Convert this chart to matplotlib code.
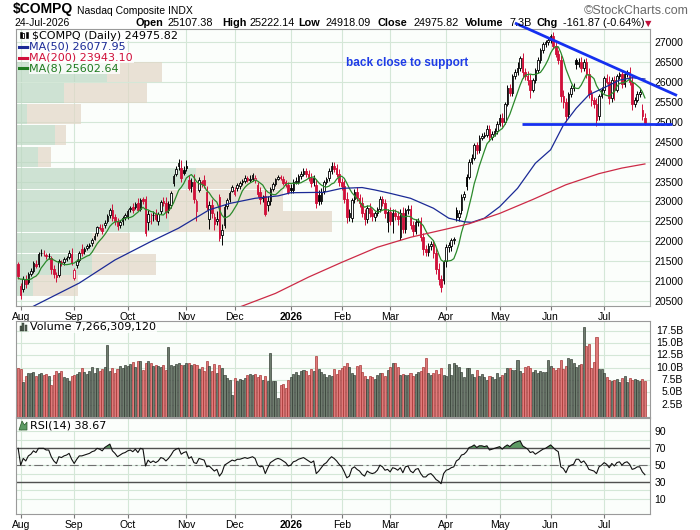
import numpy as np
import matplotlib
matplotlib.use("Agg")
import matplotlib.pyplot as plt
from matplotlib.patches import Rectangle, Polygon
from matplotlib.collections import PatchCollection, LineCollection
import matplotlib.transforms as mtransforms

# ------------------------------------------------------------------ data
month_labels = ['Aug', 'Sep', 'Oct', 'Nov', 'Dec', '2026', 'Feb', 'Mar', 'Apr', 'May', 'Jun', 'Jul']
month_start_idx = [0, 21, 42, 65, 84, 106, 126, 145, 167, 188, 208, 229]

# closes of the 7 sessions before the first bar (only used to seed the MA(8))
warmup_closes = [20893, 21020, 21057, 21108, 21178, 21098, 21130]

# first bar = 31-Jul (index -1), last bar = 24-Jul (index 245)
closes = [
    21122,
    20650, 21053, 20916, 21169, 21242, 21450, 21385, 21681, 21713, 21710, 21623, 21629, 21315, 21172, 21100, 21497, 21449, 21544, 21590, 21705, 21455,
    21279, 21497, 21707, 21700, 21798, 21879, 21886, 22043, 22141, 22348, 22333, 22261, 22470, 22631, 22788, 22573, 22497, 22384, 22484, 22591, 22660,
    22755, 22844, 22780, 22941, 22788, 23043, 23024, 22204, 22695, 22521, 22670, 22562, 22680, 22991, 22953, 22740, 22942, 23205, 23637, 23827, 23958, 23581, 23725,
    23834, 23349, 23500, 23054, 23005, 23528, 23468, 23406, 22871, 22900, 22708, 22432, 22564, 22078, 22273, 22872, 23025, 23215, 23366,
    23276, 23414, 23454, 23505, 23578, 23546, 23576, 23654, 23593, 23195, 23057, 23111, 22693, 23006, 23307, 23428, 23562, 23614, 23593, 23474, 23420, 23242,
    23290, 23480, 23520, 23640, 23700, 23760, 23680, 23580, 23470, 23600, 22960, 23000, 23250, 23480, 23560, 23760, 23900, 23820, 23700, 23480,
    23380, 23050, 22600, 22700, 23030, 23230, 23080, 22950, 22700, 22550, 22830, 22720, 22640, 22700, 22800, 23050, 22960, 22700, 22740,
    22520, 22700, 22640, 22560, 22720, 22300, 22780, 22820, 22420, 22250, 22480, 22500, 22100, 21800, 21740, 21880, 21920, 21700, 21300, 21050, 20850, 21480,
    21850, 21900, 22020, 22050, 22620, 22700, 23120, 23180, 23400, 24000, 24100, 24420, 24300, 24600, 24650, 24680, 24830, 24620, 24700, 24780, 24950,
    25100, 25000, 25450, 25850, 25720, 26150, 26250, 26350, 26600, 26250, 26150, 26050, 25800, 26050, 26300, 26550, 26800, 26950, 27000, 27050,
    27150, 26900, 26700, 26550, 25650, 25500, 25150, 25700, 25850, 25900, 26450, 26500, 26350, 26500, 26200, 25700, 25550, 25450, 25050, 25650, 25800,
    26100, 26000, 25600, 26050, 25800, 26150, 26200, 25950, 26200, 26250, 26000, 25450, 25550, 25700, 25757, 25137.69, 24975.82,
]
opens = [
    21430,
    20880, 20790, 21040, 20980, 21180, 21250, 21420, 21420, 21700, 21700, 21650, 21620, 21580, 21300, 21150, 21150, 21480, 21470, 21550, 21610, 21690,
    21080, 21400, 21530, 21800, 21750, 21830, 21890, 21950, 22060, 22200, 22360, 22340, 22400, 22520, 22650, 22790, 22600, 22500, 22400, 22500, 22600,
    22620, 22800, 22870, 22860, 22950, 22820, 23050, 23070, 22480, 22500, 22650, 22680, 22500, 22750, 23000, 22960, 22780, 22900, 23460, 23700, 23880, 23850, 23800,
    23900, 23550, 23380, 23480, 22760, 23300, 23480, 23550, 23250, 22550, 22900, 22600, 22500, 23100, 22150, 22400, 22880, 23050, 23270,
    23200, 23330, 23380, 23480, 23520, 23590, 23540, 23570, 23550, 23420, 23250, 23080, 23150, 22900, 23000, 23320, 23440, 23570, 23620, 23570, 23480, 23420,
    23330, 23300, 23490, 23500, 23640, 23700, 23770, 23690, 23590, 23480, 23420, 23160, 23020, 23260, 23500, 23580, 23760, 23900, 23830, 23700,
    23500, 23380, 23050, 22620, 22580, 23050, 23240, 23080, 22950, 22700, 22560, 22830, 22720, 22620, 22700, 22820, 23050, 22950, 22480,
    22740, 22520, 22700, 22640, 22100, 22700, 22300, 22780, 22800, 22420, 22250, 22480, 22500, 22100, 21800, 21740, 21880, 21920, 21700, 21300, 21050, 21030,
    21500, 21850, 21880, 22020, 22780, 22620, 22780, 23120, 23620, 23620, 24000, 24100, 24420, 24300, 24600, 24650, 24680, 24830, 24620, 24700, 24780,
    24950, 25100, 25000, 25450, 25850, 25720, 26150, 26250, 26350, 26600, 26250, 26150, 26050, 25800, 26050, 26300, 26550, 26800, 26950, 27000,
    27050, 27150, 26900, 26700, 26550, 25650, 25500, 25200, 25700, 25850, 26550, 26450, 26500, 26350, 26500, 26200, 25700, 25550, 25450, 25150, 25650,
    25800, 26100, 26000, 25600, 26050, 25800, 26150, 26200, 25950, 26200, 26250, 26000, 25450, 25550, 25700, 25300, 25107.38,
]
# wick lengths above max(open, close) and below min(open, close), in index points
wick_up = [
    40,
    60, 80, 120, 60, 90, 50, 110, 60, 90, 70, 60, 70, 60, 110, 90, 50, 60, 60, 40, 70, 130,
    60, 50, 40, 140, 50, 60, 60, 40, 60, 40, 70, 90, 60, 50, 40, 150, 90, 80, 60, 50, 40,
    60, 40, 90, 50, 140, 40, 60, 80, 100, 200, 90, 140, 60, 40, 100, 150, 60, 60, 50, 60, 100, 200, 80,
    140, 120, 100, 200, 60, 80, 60, 120, 150, 120, 150, 120, 200, 100, 150, 60, 60, 60, 50,
    80, 60, 60, 60, 80, 60, 80, 60, 60, 80, 120, 60, 150, 120, 60, 60, 40, 40, 40, 60, 60, 80,
    100, 80, 90, 60, 60, 80, 70, 90, 120, 60, 150, 120, 80, 60, 60, 80, 100, 80, 100, 120,
    100, 150, 200, 120, 60, 80, 120, 100, 150, 120, 80, 120, 100, 60, 60, 80, 100, 120, 80,
    120, 100, 100, 120, 80, 150, 60, 80, 120, 100, 80, 80, 120, 100, 100, 80, 80, 100, 120, 150, 100, 60,
    80, 80, 60, 60, 80, 80, 60, 80, 60, 60, 100, 60, 80, 60, 60, 60, 80, 100, 60, 60, 80,
    100, 120, 60, 80, 100, 60, 80, 150, 60, 120, 100, 120, 150, 60, 60, 80, 60, 60, 60, 80,
    60, 100, 100, 100, 120, 150, 100, 60, 80, 80, 60, 100, 120, 80, 100, 150, 100, 80, 150, 60, 80,
    60, 100, 150, 80, 100, 60, 60, 100, 60, 60, 120, 150, 80, 80, 60, 160, 114.76,
]
wick_dn = [
    60,
    100, 60, 80, 60, 60, 60, 60, 60, 60, 80, 60, 60, 150, 100, 120, 60, 60, 60, 50, 60, 40,
    60, 60, 60, 60, 60, 50, 60, 60, 40, 60, 60, 80, 60, 60, 60, 60, 80, 100, 60, 80, 60,
    60, 60, 80, 60, 40, 60, 80, 60, 200, 60, 150, 60, 100, 60, 60, 150, 60, 60, 60, 60, 80, 100, 60,
    60, 60, 150, 100, 250, 60, 100, 60, 80, 250, 120, 150, 100, 60, 250, 60, 80, 60, 40,
    60, 60, 60, 60, 60, 60, 60, 60, 80, 80, 120, 100, 60, 150, 80, 60, 40, 40, 60, 60, 60, 60,
    80, 80, 60, 60, 80, 60, 60, 60, 100, 80, 120, 100, 80, 60, 60, 60, 60, 80, 80, 80,
    100, 100, 150, 100, 100, 80, 80, 100, 100, 150, 100, 100, 120, 100, 60, 80, 80, 120, 250,
    120, 300, 100, 150, 80, 100, 100, 100, 100, 120, 80, 100, 100, 150, 120, 100, 100, 120, 120, 150, 130, 100,
    150, 120, 120, 100, 100, 100, 100, 80, 100, 60, 60, 60, 100, 80, 60, 60, 60, 100, 80, 60, 80,
    60, 120, 60, 60, 60, 80, 60, 60, 60, 150, 100, 120, 200, 60, 60, 60, 60, 60, 60, 60,
    60, 80, 80, 100, 150, 150, 150, 100, 80, 80, 120, 60, 100, 80, 100, 100, 150, 100, 150, 100, 60,
    80, 60, 150, 100, 250, 60, 60, 100, 80, 60, 80, 150, 80, 60, 80, 80, 57.73,
]
# daily volume, billions of shares
volumes_b = [
    9.9,
    9.7, 7.2, 8.4, 8.9, 8.9, 9.2, 8.3, 8.8, 9.0, 8.6, 8.7, 8.3, 6.4, 8.6, 9.4, 8.9, 9.3, 8.1, 7.9, 7.4, 8.3,
    8.6, 8.7, 9.2, 10.0, 9.1, 8.8, 9.4, 10.2, 9.0, 10.0, 9.4, 9.7, 10.2, 14.6, 9.3, 10.0, 9.0, 9.7, 10.3, 9.9, 10.6,
    10.4, 10.8, 11.2, 10.2, 11.4, 11.4, 9.6, 10.9, 11.3, 10.9, 10.4, 10.6, 10.3, 10.2, 10.6, 9.6, 14.3, 10.5, 10.4, 10.7, 10.9, 10.5, 10.6,
    10.9, 11.0, 10.6, 10.8, 10.5, 9.7, 10.2, 9.4, 11.4, 10.4, 9.3, 10.7, 8.9, 10.5, 9.9, 8.6, 7.9, 7.5, 4.5,
    7.9, 7.4, 7.8, 7.5, 7.9, 8.5, 8.8, 8.5, 8.8, 8.2, 8.5, 7.6, 8.3, 7.4, 12.9, 7.3, 7.4, 3.8, 6.5, 6.8, 5.8, 7.6,
    8.2, 8.8, 9.1, 8.6, 9.4, 9.6, 9.3, 8.5, 9.7, 9.4, 12.3, 9.7, 9.2, 8.7, 8.2, 8.5, 8.3, 9.8, 8.8, 9.5,
    9.9, 10.4, 10.9, 10.1, 8.9, 8.6, 10.3, 10.6, 9.1, 8.4, 7.7, 8.4, 8.1, 7.7, 8.5, 8.9, 9.0, 8.3, 9.5,
    10.1, 11.0, 11.0, 10.2, 8.5, 8.8, 8.5, 8.6, 8.9, 8.4, 8.7, 9.1, 9.4, 10.2, 12.0, 8.9, 8.5, 9.0, 9.6, 8.7, 9.9, 8.5,
    8.3, 10.7, 8.6, 10.9, 10.6, 10.1, 9.1, 8.2, 10.0, 10.0, 8.7, 8.2, 9.6, 8.4, 8.7, 8.2, 7.6, 8.3, 8.1, 7.7, 8.9,
    8.1, 8.5, 9.0, 9.9, 9.9, 9.6, 9.6, 11.5, 9.3, 9.0, 10.1, 10.4, 9.9, 9.1, 9.6, 9.0, 9.3, 9.1, 9.2, 11.5,
    10.3, 9.9, 9.5, 9.9, 11.5, 9.8, 10.4, 12.0, 11.8, 11.0, 10.2, 10.5, 10.8, 18.2, 14.5, 14.8, 10.0, 11.2, 16.3, 9.8, 9.8,
    9.0, 8.2, 7.5, 7.3, 7.5, 7.7, 7.2, 7.9, 8.3, 7.2, 7.9, 7.5, 7.7, 7.6, 7.4, 7.7, 7.266,
]
rsi14 = [
    70,
    50, 58, 55, 61, 63, 67, 65, 70, 70, 70, 68, 68, 60, 55, 52, 60, 59, 61, 62, 64, 57,
    52, 57, 61, 61, 62, 63, 64, 66, 67, 70, 69, 67, 71, 73, 75, 67, 64, 60, 62, 64, 65,
    67, 68, 66, 69, 65, 70, 69, 49, 56, 53, 55, 53, 55, 59, 58, 55, 58, 62, 67, 69, 70, 63, 65,
    66, 58, 60, 53, 52, 58, 57, 56, 48, 49, 46, 43, 45, 37, 41, 50, 52, 54, 56,
    55, 57, 57, 58, 59, 58, 59, 60, 58, 50, 48, 49, 40, 47, 53, 55, 57, 58, 57, 55, 53, 49,
    50, 54, 55, 57, 58, 59, 57, 55, 53, 55, 40, 43, 47, 51, 53, 57, 60, 58, 55, 51,
    48, 42, 35, 37, 46, 48, 45, 43, 39, 37, 43, 41, 40, 41, 44, 50, 48, 44, 45,
    42, 47, 46, 44, 47, 41, 48, 49, 43, 41, 45, 46, 40, 36, 36, 39, 40, 37, 33, 31, 28, 40,
    44, 45, 47, 48, 55, 57, 62, 63, 66, 71, 72, 74, 71, 73, 73, 72, 73, 68, 69, 70, 71,
    72, 69, 72, 74, 72, 75, 77, 78, 79, 73, 71, 69, 65, 66, 63, 65, 67, 69, 70, 72,
    74, 71, 68, 66, 48, 46, 41, 48, 50, 51, 57, 57, 53, 55, 51, 45, 44, 43, 40, 48, 50,
    53, 51, 47, 52, 49, 53, 54, 50, 53, 54, 51, 45, 46, 48, 48, 42, 38.67,
]
# moving averages (bar index, value)
ma50_idx = [-2, 6, 23, 37, 51, 62, 74, 82, 92, 101, 106, 119, 126, 134, 139, 145, 153, 162, 168, 174, 177,
            182, 188, 195, 202, 208, 213, 218, 223, 229, 235, 240, 245]
ma50_val = [20130, 20400, 20950, 21530, 21990, 22330, 22790, 22950, 23080, 23140, 23220, 23230, 23330, 23350,
            23290, 23205, 23080, 22830, 22580, 22490, 22475, 22580, 22870, 23330, 23960, 24300, 24920, 25340,
            25680, 25860, 26050, 26110, 26077.95]
ma200_idx = [84, 100, 113, 126, 140, 153, 168, 176, 188, 201, 214, 227, 236, 245]
ma200_val = [20300, 20690, 21100, 21470, 21850, 22100, 22320, 22440, 22700, 23050, 23420, 23700, 23840, 23943.10]

# volume-by-price zones (price band, up volume, down volume; relative units)
vbp_low = [26010, 25482, 24947, 24419, 23859, 23306, 22773, 22240, 21698, 21152, 20625]
vbp_high = [26497, 25977, 25449, 24922, 24376, 23834, 23288, 22761, 22215, 21680, 21140]
vbp_up = [91, 48, 10.7, 39, 21.7, 179.7, 153, 153, 75.7, 75.7, 17.3]
vbp_down = [55, 82.7, 54.3, 10.7, 13.3, 95, 114.3, 162.7, 38.3, 64, 44.4]

# hand-drawn annotations (bar index, price)
trend_idx = [194, 257.6]
trend_val = [27485, 25663]
support_idx = [196.6, 255.5]
support_val = [24954, 24954]

# ------------------------------------------------------------------ prep
closes = np.asarray(closes, float)
opens = np.asarray(opens, float)
n = len(closes)
idx = np.arange(n) - 1
highs = np.maximum(opens, closes) + np.asarray(wick_up, float)
lows = np.minimum(opens, closes) - np.asarray(wick_dn, float)
prev_close = np.concatenate([[warmup_closes[-1]], closes[:-1]])
is_down = closes < prev_close
hollow = closes > opens
all_c = np.concatenate([np.asarray(warmup_closes, float), closes])
ma8 = np.convolve(all_c, np.ones(8) / 8.0, mode='valid')
rsi14 = np.asarray(rsi14, float)
volumes_b = np.asarray(volumes_b, float)

# ------------------------------------------------------------------ figure
plt.rcParams['font.family'] = ['DejaVu Sans']
W, H = 700.0, 530.0
fig = plt.figure(figsize=(7, 5.3), dpi=100)
fig.patch.set_facecolor('white')


def fx(p):
    return p / W


def fy(p):
    return 1.0 - p / H


def axrect(l, t, r, b):
    return [fx(l), fy(b), (r - l) / W, (b - t) / H]


ax_p = fig.add_axes(axrect(16, 29.5, 650, 306))
ax_v = fig.add_axes(axrect(16, 321, 650, 417))
ax_r = fig.add_axes(axrect(16, 418, 650, 514))

XMIN, XMAX = -1.84, 247.0
BG = '#fbfefb'
GRID = '#d4e7d7'
SPINE = '#9a9a9a'
UP_C = '#000000'
DN_C = '#d0103a'
TICKF = 'Liberation Sans'

for ax in (ax_p, ax_v, ax_r):
    ax.set_facecolor(BG)
    ax.set_xlim(XMIN, XMAX)
    for s in ax.spines.values():
        s.set_color(SPINE)
        s.set_linewidth(0.8)
    ax.set_xticks(month_start_idx)
    ax.xaxis.grid(True, color=GRID, lw=0.8)
    ax.yaxis.grid(True, color=GRID, lw=0.8)
    ax.set_axisbelow(True)
    ax.yaxis.tick_right()
    ax.tick_params(axis='y', length=0, pad=3, labelsize=7.5)
    ax.tick_params(axis='x', length=3, color='#777777', labelsize=7.5, pad=1.5)

# ---------------- price panel
ax_p.set_ylim(20373, 27322)
pt = np.arange(20500, 27001, 500)
ax_p.set_yticks(pt)
ax_p.set_yticklabels([str(v) for v in pt], family=TICKF, fontsize=7.5)

vbp_tr = mtransforms.blended_transform_factory(ax_p.transAxes, ax_p.transData)
VBP_FULL = 634.0
for lo, hi, up, dn in zip(vbp_low, vbp_high, vbp_up, vbp_down):
    ax_p.add_patch(Rectangle((0, lo), up / VBP_FULL, hi - lo, transform=vbp_tr,
                             facecolor='#bcd7c2', alpha=0.7, edgecolor='none', zorder=0.8))
    ax_p.add_patch(Rectangle((up / VBP_FULL, lo), dn / VBP_FULL, hi - lo, transform=vbp_tr,
                             facecolor='#e2d6c6', alpha=0.7, edgecolor='none', zorder=0.8))

cols = np.where(is_down, DN_C, UP_C)
segs = [[(i, l), (i, h)] for i, l, h in zip(idx, lows, highs)]
ax_p.add_collection(LineCollection(segs, colors=cols, linewidths=0.7, zorder=3))
body_w = 0.62
rects, fcs = [], []
for i, o, c, col, hol in zip(idx, opens, closes, cols, hollow):
    lo, hi = min(o, c), max(o, c)
    rects.append(Rectangle((i - body_w / 2, lo), body_w, max(hi - lo, 10)))
    fcs.append('white' if hol else col)
ax_p.add_collection(PatchCollection(rects, facecolors=fcs, edgecolors=cols, linewidths=0.6, zorder=4))

ax_p.plot(idx, ma8, color='#2b8a2b', lw=0.9, zorder=5)
ax_p.plot(ma50_idx, ma50_val, color='#1b2a96', lw=0.9, zorder=5)
ax_p.plot(ma200_idx, ma200_val, color='#cc2a46', lw=0.9, zorder=5)

LINE_BLUE = '#1530f0'
ax_p.plot(trend_idx, trend_val, color=LINE_BLUE, lw=2.0, clip_on=False, zorder=7, solid_capstyle='butt')
ax_p.plot(support_idx, support_val, color=LINE_BLUE, lw=2.0, clip_on=False, zorder=7, solid_capstyle='butt')
ax_p.text(127.8, 26480, 'back close to support', color='#1e3ce6', fontsize=8.5,
          fontweight='bold', family='Liberation Sans', va='center', ha='left', zorder=8)

ax_p.set_xticklabels(month_labels, family=TICKF, fontsize=7.5)
ax_v.set_xticklabels([])
ax_v.tick_params(axis='x', length=0)
ax_r.set_xticklabels(month_labels, family=TICKF, fontsize=7.5)
for ax in (ax_p, ax_r):
    for lab in ax.get_xticklabels():
        if lab.get_text() == '2026':
            lab.set_fontweight('bold')

# ---------------- volume panel
ax_v.set_ylim(0, 19.5)
vt = [2.5, 5, 7.5, 10, 12.5, 15, 17.5]
ax_v.set_yticks(vt)
ax_v.set_yticklabels([])
vcol = np.where(is_down, '#e07a7a', '#6f7d6f')
vedge = np.where(is_down, '#a02a2a', '#2c342c')
ax_v.bar(idx, volumes_b, width=0.8, color=vcol, edgecolor=vedge, linewidth=0.45, zorder=3)
vtr = mtransforms.blended_transform_factory(fig.transFigure, ax_v.transData)
for t in vt:
    fig.text(fx(683), t, '%.1fB' % t, transform=vtr, ha='right', va='center',
             family=TICKF, fontsize=7.5)

# ---------------- RSI panel
ax_r.set_ylim(-8, 106)
ax_r.set_yticks([10, 30, 50, 70, 90])
ax_r.set_yticklabels(['10', '30', '50', '70', '90'], family=TICKF, fontsize=7.5)
ax_r.set_yticks([20, 40, 60, 80], minor=True)
ax_r.yaxis.grid(True, which='minor', color=GRID, lw=0.8)
ax_r.tick_params(axis='y', which='minor', length=0)
ax_r.fill_between(idx, rsi14, 70, where=rsi14 >= 70, interpolate=True, color='#5d9b64', lw=0, zorder=2)
ax_r.axhline(70, color='#505050', lw=1.0, zorder=2.5)
ax_r.axhline(30, color='#505050', lw=1.0, zorder=2.5)
ax_r.axhline(50, color='#707070', lw=0.8, ls=(0, (8, 3, 2, 3)), zorder=2.5)
ax_r.plot(idx, rsi14, color='#111111', lw=0.8, zorder=3)

# ---------------- legends / labels inside panels
def add_rect(x0, y0, w, h, **kw):
    fig.add_artist(Rectangle((fx(x0), fy(y0 + h)), w / W, h / H, transform=fig.transFigure, **kw))


bb = dict(facecolor='white', edgecolor='none', alpha=0.8, pad=0.6)
fig.text(fx(31.5), fy(35.7), '$COMPQ (Daily) 24975.82', fontsize=8, va='center', ha='left', color='black', bbox=bb)
add_rect(19.5, 32, 2, 6, facecolor='black', edgecolor='black', lw=0.4)
add_rect(22.5, 33, 2, 5, facecolor='white', edgecolor='black', lw=0.6)
add_rect(25.5, 31.5, 2, 6, facecolor='black', edgecolor='black', lw=0.4)
leg_items = [('MA(50) 26077.95', '#1b2a96', 46.7), ('MA(200) 23943.10', '#d0103a', 57.5), ('MA(8) 25602.64', '#1f7a1f', 68.2)]
for txt, c, yy in leg_items:
    fig.text(fx(29.3), fy(yy), txt, fontsize=8, va='center', ha='left', color=c, bbox=bb)
    fig.add_artist(plt.Line2D([fx(19), fx(27.5)], [fy(yy), fy(yy)], transform=fig.transFigure, color=c, lw=2.2))

fig.text(fx(30), fy(327.3), 'Volume 7,266,309,120', fontsize=8, va='center', ha='left', color='black', bbox=bb)
for k, hh in enumerate([5, 8, 6]):
    add_rect(19.5 + 2.6 * k, 331 - hh, 2, hh, facecolor='#556055', edgecolor='#223022', lw=0.3)
fig.text(fx(29.5), fy(425), 'RSI(14) 38.67', fontsize=8, va='center', ha='left', color='black', bbox=bb)
fig.add_artist(Polygon([(fx(19), fy(430)), (fx(22), fy(421)), (fx(24.5), fy(425)), (fx(27), fy(422)), (fx(27), fy(430))],
                       closed=True, transform=fig.transFigure, facecolor='#5d9b64', edgecolor='#2a5a2a', lw=0.5))

# ---------------- header
HF = 'Liberation Sans'
fig.text(fx(13), fy(13.5), '$COMPQ', fontsize=10, fontweight='bold', family=HF, va='baseline')
fig.text(fx(77), fy(13.5), 'Nasdaq Composite INDX', fontsize=7.5, family=HF, va='baseline')
fig.text(fx(689), fy(13.5), '\u00a9StockCharts.com', fontsize=9, family=HF, va='baseline', ha='right', color='#6a6a6a')
fig.text(fx(14), fy(26), '24-Jul-2026', fontsize=7.5, family=HF, va='baseline')
hdr_parts = [('Open', 136, True), ('25107.38', 167.8, False), ('High', 222, True), ('25222.14', 249.5, False),
             ('Low', 298.3, True), ('24918.09', 325, False), ('Close', 377, True), ('24975.82', 413, False),
             ('Volume', 464.7, True), ('7.3B', 509.8, False), ('Chg', 536.9, True), ('-161.87 (-0.64%)', 563, False)]
for txt, xx, bold in hdr_parts:
    fig.text(fx(xx), fy(26), txt, fontsize=7.8, family=HF, va='baseline', fontweight='bold' if bold else 'normal')
fig.text(fx(645), fy(26), '\u25bc', fontsize=6, family='DejaVu Sans', va='baseline', color='#c0103a')

fig.savefig('out.png', dpi=100, facecolor='white')
